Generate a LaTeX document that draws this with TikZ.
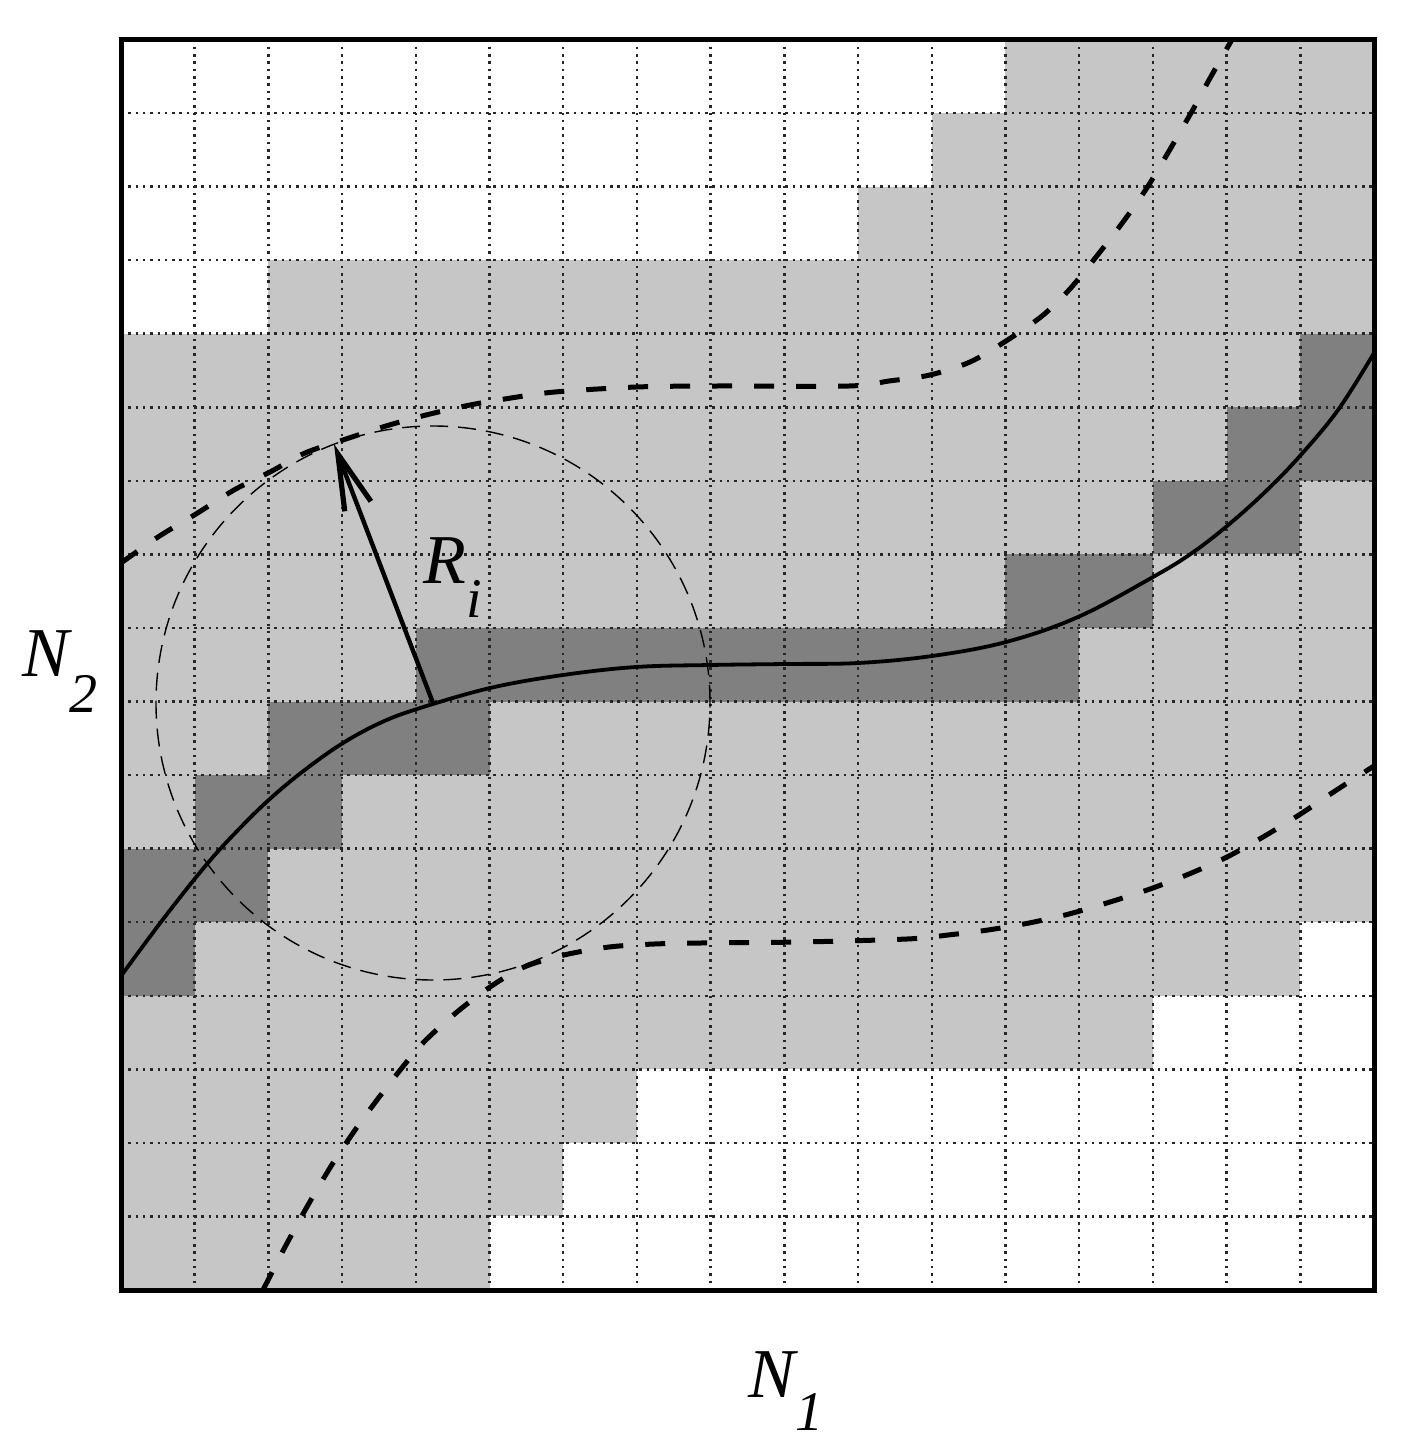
\documentclass[tikz,border=0pt]{standalone}
\usepackage{fontspec}
\setmainfont{Liberation Serif}
\usetikzlibrary{arrows.meta}
\definecolor{cellgray}{gray}{0.776}
\definecolor{pathgray}{gray}{0.5}
\tikzset{
  gridline/.style={draw=black!85, line width=1.25pt, dash pattern=on 1.25pt off 2.4pt},
  boxline/.style={line width=2.5pt},
  mainpath/.style={line width=1.9pt, line join=round},
  boundpath/.style={line width=2.5pt, dash pattern=on 10pt off 11pt},
  radcircle/.style={line width=0.7pt, dash pattern=on 9pt off 5pt},
  radarrow/.style={line width=2.2pt, -{Straight Barb[length=28pt,width=14pt,line width=2.6pt]}},
  axislabel/.style={inner sep=0pt, anchor=base west, font=\fontsize{35}{40}\selectfont\itshape},
}
\newcommand\subsc[2]{\raisebox{-#1}{\fontsize{28}{30}\selectfont\itshape #2}}
\begin{document}
\begin{tikzpicture}[x=0.5pt,y=-0.5pt]
\useasboundingbox (0,0) rectangle (1407,1456);
% cells
\fill[cellgray] (121,39.5) rectangle (1374,1290);
\foreach \r/\a/\b in {0/0/11,1/0/10,2/0/9,3/0/1,12/16/16,13/14/16,14/7/16,15/6/16,16/5/16}
  \fill[white] ({121+\a*73.706},{39.5+\r*73.559}) rectangle ({121+(\b+1)*73.706},{39.5+(\r+1)*73.559});
\foreach \r/\a/\b in {4/16/16,5/15/16,6/14/15,7/12/13,8/4/12,9/2/4,10/1/2,11/0/1,12/0/0}
  \fill[pathgray] ({121+\a*73.706},{39.5+\r*73.559}) rectangle ({121+(\b+1)*73.706},{39.5+(\r+1)*73.559});
% grid
\foreach \i in {1,...,16} {
  \draw[gridline] ({121+\i*73.706},39.5) -- ({121+\i*73.706},1290);
  \draw[gridline] (121,{39.5+\i*73.559}) -- (1374,{39.5+\i*73.559});
}
% circle and radius
\coordinate (ctr) at (433,703);
\coordinate (tip) at (334,444);
\draw[radcircle] (ctr) circle[radius=138.5pt];
% solid path
\draw[mainpath] plot[smooth, tension=0.6] coordinates {
  (121,976) (164,918) (207,864) (240,828) (272,797) (306,769) (343,743)
  (380,723) (417,709) (490,688) (563,675) (636,667) (710,665) (785,664)
  (858,663) (932,656) (1006,642) (1078,617) (1153,577) (1192,553)
  (1227,526) (1264,493) (1299,457) (1338,410) (1374,353)};
% upper bound
\draw[boundpath] plot[smooth, tension=0.5] coordinates {
  (121,563) (158,537) (196,514) (234,490) (270,472) (305,453) (343,440)
  (386,426) (426,415) (470,405) (511,398) (555,392) (636,387) (716,386)
  (849,386) (889,381) (930,375) (970,362) (1006,341) (1042,316) (1069,290)
  (1096,257) (1123,222) (1150,183) (1191,113) (1209,80) (1232,39.5)};
% lower bound
\draw[boundpath] plot[smooth, tension=0.5] coordinates {
  (263,1290) (285,1247) (308,1205) (333,1163) (360,1123) (390,1083)
  (422,1044) (457,1012) (490,987) (524,967) (564,955) (609,947) (654,944)
  (700,943) (800,942) (907,939) (948,935) (988,930) (1029,923) (1069,914)
  (1110,902) (1150,889) (1189,874) (1227,857) (1263,837) (1299,815)
  (1335,791) (1374,766)};
\draw[radarrow] (ctr) -- (tip);
% frame
\draw[boxline] (121,39.5) rectangle (1374,1290);
% labels
\node[axislabel] (ri) at (423,583) {R\subsc{17pt}{i}};
\node[axislabel] (n2) at (22,676) {N\subsc{18pt}{2}};
\node[axislabel] (n1) at (748,1397) {N\subsc{16.5pt}{1}};
\end{tikzpicture}
\end{document}
